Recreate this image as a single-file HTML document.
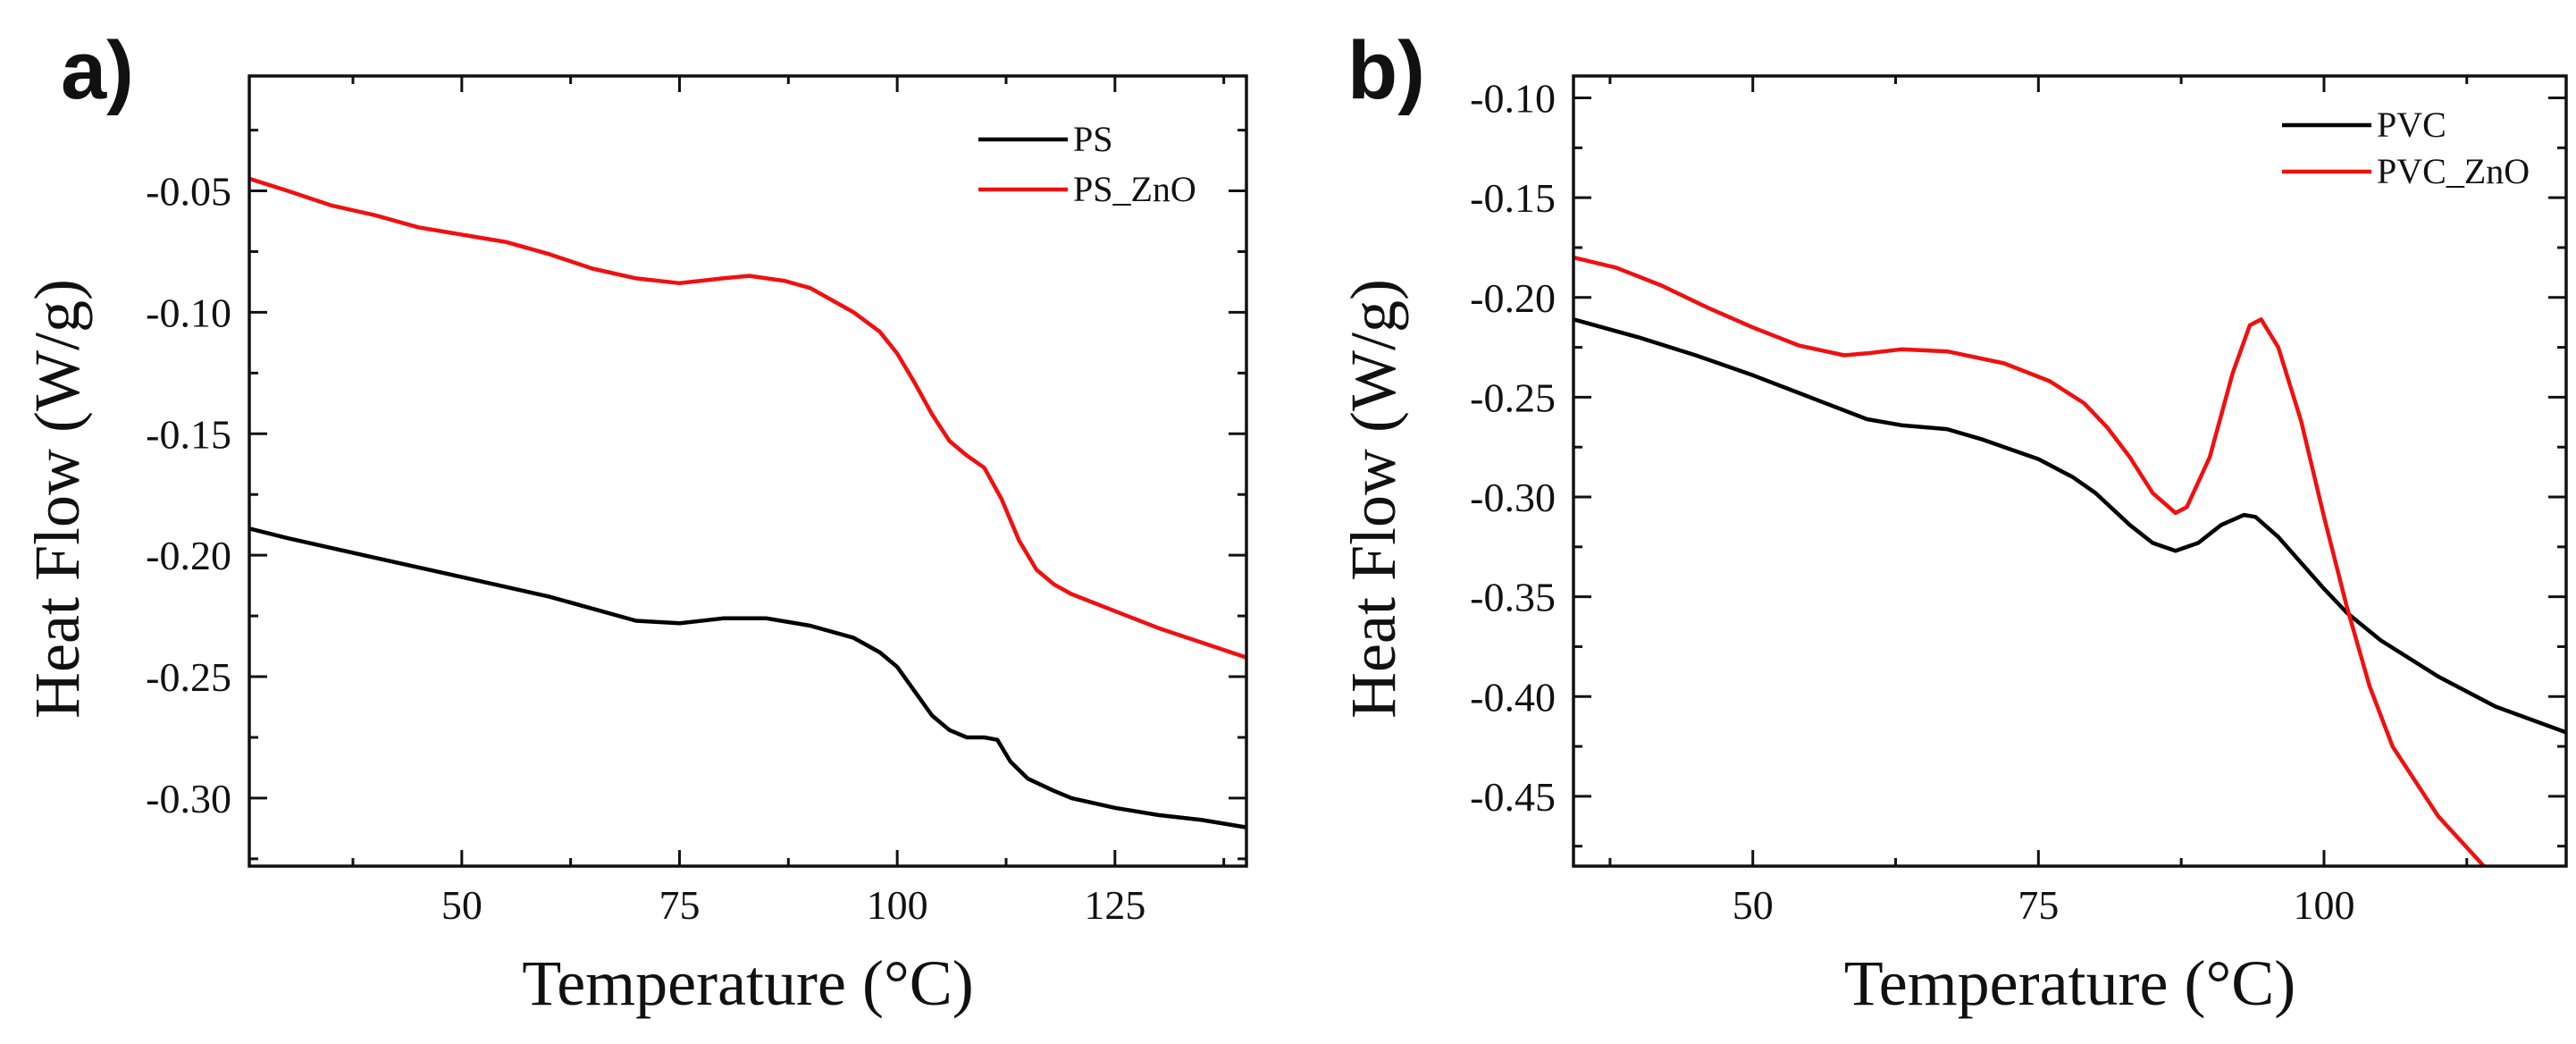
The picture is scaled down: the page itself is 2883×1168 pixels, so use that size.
<!DOCTYPE html>
<html><head><meta charset="utf-8">
<style>
html,body{margin:0;padding:0;background:#fff;}
svg{display:block;}
text{font-family:"Liberation Serif",serif;fill:#111;}
.lbl{font-family:"Liberation Sans",sans-serif;font-weight:bold;}
</style></head>
<body>
<svg id="fig" width="2883" height="1168" viewBox="0 0 2883 1168" xmlns="http://www.w3.org/2000/svg"></svg>
<script>
// Panel a data
const psX = [25.6,30,40,50,60,65,70,75,80,85,90,95,98,100,102,104,106,108,110,111.5,113,115,118,120,125,130,135,140];
const psY = [-0.189,-0.193,-0.201,-0.209,-0.217,-0.222,-0.227,-0.228,-0.226,-0.226,-0.229,-0.234,-0.240,-0.246,-0.256,-0.266,-0.272,-0.275,-0.275,-0.276,-0.285,-0.292,-0.297,-0.300,-0.304,-0.307,-0.309,-0.312];
const psZnoX = [25.6,30,35,40,45,50,55,60,65,70,75,80,83,87,90,95,98,100,102,104,106,108,110,112,114,116,118,120,125,130,135,140];
const psZnoY = [-0.045,-0.050,-0.056,-0.060,-0.065,-0.068,-0.071,-0.076,-0.082,-0.086,-0.088,-0.086,-0.085,-0.087,-0.090,-0.100,-0.108,-0.117,-0.129,-0.142,-0.153,-0.159,-0.164,-0.177,-0.194,-0.206,-0.212,-0.216,-0.223,-0.230,-0.236,-0.242];
const aXTicks = [50,75,100,125];
const aYTicks = [-0.05,-0.10,-0.15,-0.20,-0.25,-0.30];
// Panel b data
const pvcX = [34.3,40,45,50,55,60,63,67,70,75,78,80,83,85,87,89,91,93,94,96,98,100,102,105,110,115,121.2];
const pvcY = [-0.211,-0.220,-0.229,-0.239,-0.250,-0.261,-0.264,-0.266,-0.271,-0.281,-0.290,-0.298,-0.314,-0.323,-0.327,-0.323,-0.314,-0.309,-0.310,-0.320,-0.333,-0.346,-0.358,-0.372,-0.390,-0.405,-0.418];
const pvcZnoX = [34.3,38,42,46,50,54,58,60,63,67,72,76,79,81,83,85,87,88,90,92,93.5,94.5,96,98,100,102,104,106,110,114];
const pvcZnoY = [-0.180,-0.185,-0.194,-0.205,-0.215,-0.224,-0.229,-0.228,-0.226,-0.227,-0.233,-0.242,-0.253,-0.265,-0.280,-0.298,-0.308,-0.305,-0.280,-0.238,-0.214,-0.211,-0.225,-0.262,-0.310,-0.355,-0.395,-0.425,-0.460,-0.485];
const bXTicks = [50,75,100];
const bYTicks = [-0.10,-0.15,-0.20,-0.25,-0.30,-0.35,-0.40,-0.45];

const NS="http://www.w3.org/2000/svg";
const svg=document.getElementById('fig');
function mk(tag,attrs,parent){const e=document.createElementNS(NS,tag);for(const k in attrs)e.setAttribute(k,attrs[k]);(parent||svg).appendChild(e);return e;}

function panel(cfg){
  const g=mk('g',{});
  
  
  const sx=v=>cfg.L+(v-cfg.x0)/(cfg.x1-cfg.x0)*(cfg.R-cfg.L);
  const sy=v=>cfg.T+(cfg.y1-v)/(cfg.y1-cfg.y0)*(cfg.B-cfg.T);
  const cid='clip-'+cfg.id;
  const cp=mk('clipPath',{id:cid},g);
  mk('rect',{x:cfg.L,y:cfg.T,width:cfg.R-cfg.L,height:cfg.B-cfg.T},cp);
  cfg.series.forEach(s=>{
    const pts=s.x.map((v,i)=>sx(v).toFixed(1)+','+sy(s.y[i]).toFixed(1)).join(' ');
    const p=mk('polyline',{points:pts,fill:'none',stroke:s.color,'stroke-width':4.5,'stroke-linejoin':'round','clip-path':'url(#'+cid+')'},g);
    
    
  });
  const tg=mk('g',{stroke:'#111','stroke-width':3},g);
  const step=25/2;
  for(let v=Math.ceil(cfg.x0/step)*step; v<=cfg.x1; v+=step){
    const maj=(v%25===0); const len=maj?18:9; const x=sx(v);
    mk('line',{x1:x,y1:cfg.B,x2:x,y2:cfg.B-len},tg);
    mk('line',{x1:x,y1:cfg.T,x2:x,y2:cfg.T+len},tg);
  }
  const ys=0.025;
  for(let k=Math.ceil(cfg.y0/ys-1e-6); k*ys<=cfg.y1+1e-9; k++){
    const v=k*ys; const maj=(Math.abs(k)%2===0); const len=maj?20:10; const y=sy(v);
    mk('line',{x1:cfg.L,y1:y,x2:cfg.L+len,y2:y},tg);
    mk('line',{x1:cfg.R,y1:y,x2:cfg.R-len,y2:y},tg);
  }
  const fr=mk('rect',{x:cfg.L,y:cfg.T,width:cfg.R-cfg.L,height:cfg.B-cfg.T,fill:'none',stroke:'#111','stroke-width':3.5},g);
  
  
  cfg.xt.forEach(v=>{
    const t=mk('text',{x:sx(v),y:cfg.B+59,'text-anchor':'middle','font-size':46},g);
    t.textContent=v;
    
    
  });
  cfg.yt.forEach(v=>{
    const t=mk('text',{x:cfg.L-20,y:sy(v)+16,'text-anchor':'end','font-size':46},g);
    t.textContent=v.toFixed(2);
    
    
  });
  const xt=mk('text',{x:(cfg.L+cfg.R)/2,y:1124,'text-anchor':'middle','font-size':72},g);
  xt.textContent='Temperature (°C)';
  
  
  const yt=mk('text',{x:0,y:0,'text-anchor':'middle','font-size':72,transform:'translate('+cfg.ytx+',558) rotate(-90)'},g);
  yt.textContent='Heat Flow (W/g)';
  
  
  const pl=mk('text',{x:cfg.plx,y:110,'font-size':92,'class':'lbl'},g);
  pl.textContent=cfg.label;
  
  
  cfg.series.forEach((s,i)=>{
    const ly=cfg.legY[i];
    const ln=mk('line',{x1:cfg.legX,y1:ly,x2:cfg.legX+100,y2:ly,stroke:s.color,'stroke-width':4.5},g);
    
    
    const lt=mk('text',{x:cfg.legX+106,y:ly+13,'font-size':40},g);
    lt.textContent=s.name;
    
    
  });
}

panel({id:'a',L:279,R:1395,T:85,B:969,x0:25.6,x1:140.1,y0:-0.328,y1:-0.0027,
  xt:aXTicks,yt:aYTicks,ytx:88,plx:68,label:'a)',legX:1095,legY:[156,212],
  series:[{name:'PS',x:psX,y:psY,color:'#000'},{name:'PS_ZnO',x:psZnoX,y:psZnoY,color:'#f01010'}]});
panel({id:'b',L:1761,R:2872,T:85,B:969,x0:34.3,x1:121.2,y0:-0.485,y1:-0.089,
  xt:bXTicks,yt:bYTicks,ytx:1561,plx:1508,label:'b)',legX:2554,legY:[140,192],
  series:[{name:'PVC',x:pvcX,y:pvcY,color:'#000'},{name:'PVC_ZnO',x:pvcZnoX,y:pvcZnoY,color:'#f01010'}]});
</script>
</body></html>
